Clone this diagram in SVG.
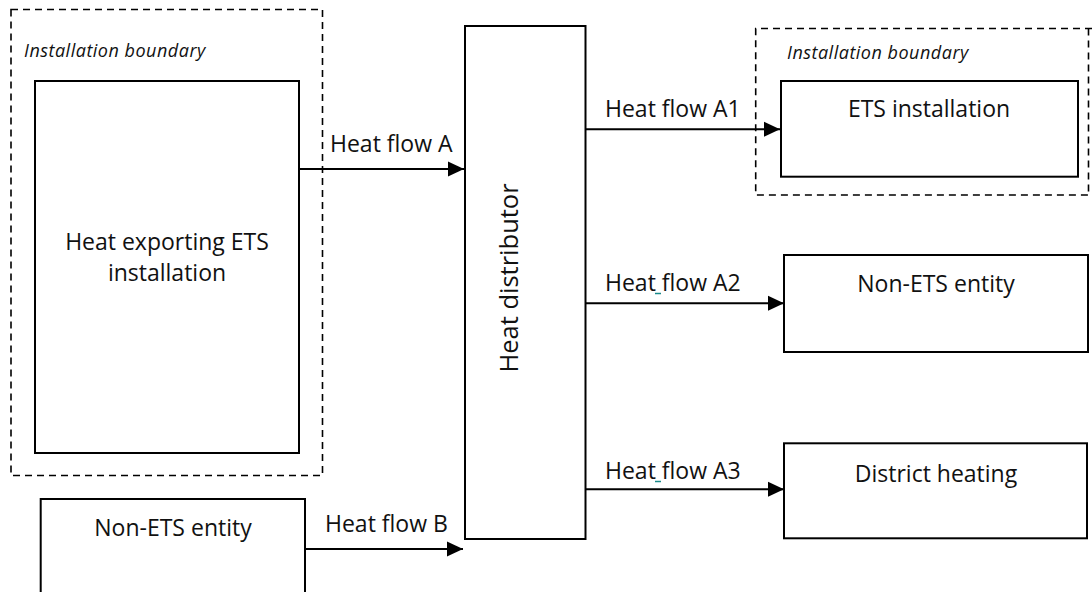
<svg xmlns="http://www.w3.org/2000/svg" width="1092" height="592" viewBox="0 0 1092 592">
<style>
.box{fill:#fff;stroke:#000;stroke-width:2}
.bnd{fill:none;stroke:#000;stroke-width:1.6;stroke-dasharray:7,5}
.t{font-family:"Open Sans","DejaVu Sans",sans-serif;font-size:23px;fill:#111}
.it{font-family:"Open Sans","DejaVu Sans",sans-serif;font-size:18px;letter-spacing:0.5px;font-style:italic;fill:#111}
.ln{stroke:#000;stroke-width:2;fill:none;marker-end:url(#ah)}
</style>
<defs>
<marker id="ah" markerUnits="userSpaceOnUse" markerWidth="17" markerHeight="16" refX="16" refY="8" orient="auto">
<path d="M0,0.5 L16,8 L0,15.5 Z" fill="#000"/>
</marker>
</defs>
<rect width="1092" height="592" fill="#fff"/>
<g id="boundary-left">
<rect class="bnd" x="11" y="9.5" width="311.5" height="466"/>
<text class="it" x="24" y="57">Installation boundary</text>
</g>
<g id="boundary-right">
<path class="bnd" d="M1092,28.5 H755.7 V195 H1092"/>
<path class="bnd" d="M1088.5,28.5 V195"/>
<text class="it" x="787" y="59">Installation boundary</text>
</g>
<g id="heat-exporting">
<rect class="box" x="35" y="81" width="264" height="372"/>
<text class="t" x="167" y="250" text-anchor="middle">Heat exporting ETS</text>
<text class="t" x="167" y="281" text-anchor="middle">installation</text>
</g>
<g id="heat-distributor">
<rect class="box" x="465" y="26" width="120.5" height="513"/>
<text class="t" style="font-size:25.5px" transform="translate(517.5,278) rotate(-90)" text-anchor="middle">Heat distributor</text>
</g>
<g id="ets-installation">
<rect class="box" x="781" y="81" width="297" height="95.7"/>
<text class="t" x="929" y="117" text-anchor="middle">ETS installation</text>
</g>
<g id="non-ets-right">
<rect class="box" x="784" y="255" width="304" height="97"/>
<text class="t" x="936" y="292" text-anchor="middle">Non-ETS entity</text>
</g>
<g id="district-heating">
<rect class="box" x="784" y="443.3" width="303" height="95"/>
<text class="t" x="936" y="482" text-anchor="middle">District heating</text>
</g>
<g id="non-ets-left">
<rect class="box" x="40.7" y="499" width="264.3" height="110"/>
<text class="t" x="173" y="536" text-anchor="middle">Non-ETS entity</text>
</g>
<g id="connectors">
<line class="ln" x1="299" y1="169" x2="464" y2="169"/>
<text class="t" x="330" y="152">Heat flow A</text>
<line class="ln" x1="585.5" y1="129.3" x2="780" y2="129.3"/>
<text class="t" x="605" y="117">Heat flow A1</text>
<line class="ln" x1="585.5" y1="303.3" x2="784" y2="303.3"/>
<text class="t" x="605" y="291">Heat flow A2</text>
<line x1="655" y1="293.5" x2="661" y2="293.5" stroke="#1a8a8a" stroke-width="1.5"/>
<line class="ln" x1="585.5" y1="489.3" x2="784" y2="489.3"/>
<text class="t" x="605" y="479">Heat flow A3</text>
<line x1="655" y1="481.5" x2="661" y2="481.5" stroke="#1a8a8a" stroke-width="1.5"/>
<line class="ln" x1="305" y1="549" x2="463" y2="549"/>
<text class="t" x="325" y="532">Heat flow B</text>
</g>
</svg>
